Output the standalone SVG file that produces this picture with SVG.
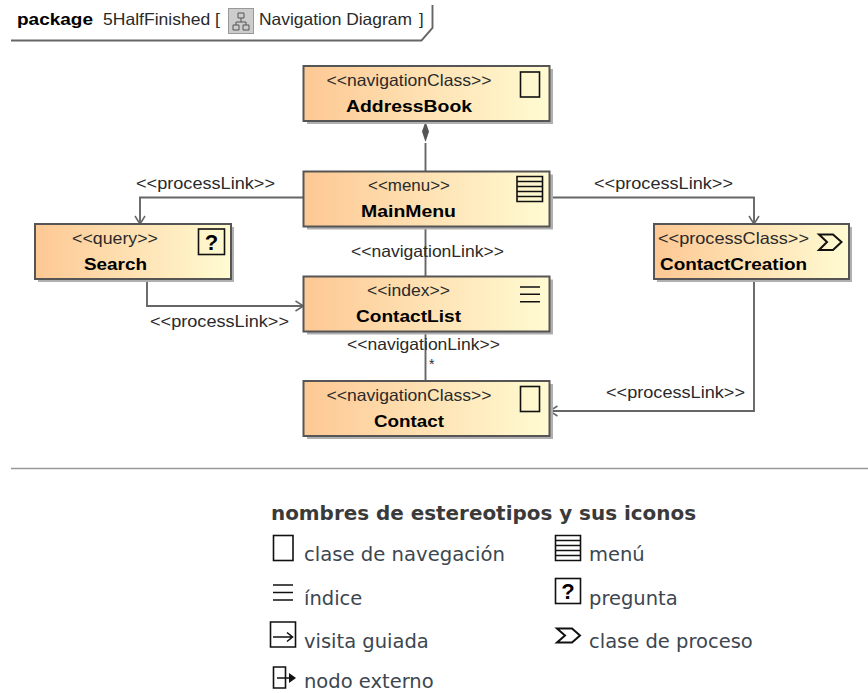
<svg xmlns="http://www.w3.org/2000/svg" width="868" height="693" viewBox="0 0 868 693">
<style>
text{font-family:"Liberation Sans",Arial,sans-serif;fill:#2a2a2a;font-size:16.500px}
.st{text-anchor:middle}
.nm{font-weight:bold;text-anchor:middle;fill:#000}
.bd{font-weight:bold;fill:#000}
.box{fill:url(#g);stroke:#555;stroke-width:2}
.sh{fill:#b0b0b0}
.ic{fill:none;stroke:#111;stroke-width:1.6}
.cn{fill:none;stroke:#666;stroke-width:1.9}
text.lg{font-family:"DejaVu Sans",Verdana,sans-serif;font-size:19.500px;fill:#3c4650}
</style>
<defs>
<linearGradient id="g" x1="0" x2="1" y1="0" y2="0"><stop offset="0" stop-color="#fdc894"/><stop offset="1" stop-color="#fffbd2"/></linearGradient>
<marker id="open" markerWidth="14" markerHeight="14" refX="11" refY="7" orient="auto" markerUnits="userSpaceOnUse"><path d="M3 2L11 7L3 12" fill="none" stroke="#666" stroke-width="1.5"/></marker>
</defs>
<g id="frame"><path class="cn" d="M11 40.500H421.500L432.500 28V5"/><text class="bd" x="17" y="25" textLength="76" lengthAdjust="spacingAndGlyphs">package</text><text x="103" y="25" textLength="117" lengthAdjust="spacingAndGlyphs">5HalfFinished [</text><rect x="228.500" y="8.500" width="25" height="25" fill="#ccc" stroke="#999"/><path d="M233 30v-5h6v5zM243 30v-5h6v5zM238 13h6v5h-6zM241 18v4M236 25v-3h10v3" fill="none" stroke="#555"/><text x="259" y="25" textLength="153" lengthAdjust="spacingAndGlyphs">Navigation Diagram</text><text x="419" y="25">]</text></g>
<g id="connectors">
<path class="cn" d="M425.500 143V171.500"/><path d="M425.500 121.500L429 131.500L425.500 142L422 131.500Z" fill="#555"/>
<path class="cn" d="M303.500 197.500H140V224" marker-end="url(#open)"/>
<path class="cn" d="M549.500 197.500H754V224" marker-end="url(#open)"/>
<path class="cn" d="M425.500 226.500V276.500"/>
<path class="cn" d="M147 279V306H303.500" marker-end="url(#open)"/>
<path class="cn" d="M425.500 331V381"/>
<path class="cn" d="M754 279V411H549.500" marker-end="url(#open)"/>
</g>
<text x="136" y="188.500" textLength="139" lengthAdjust="spacingAndGlyphs">&lt;&lt;processLink&gt;&gt;</text>
<text x="594" y="188.500" textLength="139" lengthAdjust="spacingAndGlyphs">&lt;&lt;processLink&gt;&gt;</text>
<text x="351" y="257" textLength="153" lengthAdjust="spacingAndGlyphs">&lt;&lt;navigationLink&gt;&gt;</text>
<text x="150" y="327" textLength="139" lengthAdjust="spacingAndGlyphs">&lt;&lt;processLink&gt;&gt;</text>
<text x="347" y="350" textLength="153" lengthAdjust="spacingAndGlyphs">&lt;&lt;navigationLink&gt;&gt;</text>
<text x="429" y="369" style="font-size:14px">*</text>
<text x="606" y="397.500" textLength="139" lengthAdjust="spacingAndGlyphs">&lt;&lt;processLink&gt;&gt;</text>
<g id="AddressBook"><rect class="sh" x="307" y="69" width="246" height="55"/><rect class="box" x="303.500" y="66" width="246" height="55"/><text class="st" x="409" y="86" textLength="165" lengthAdjust="spacingAndGlyphs">&lt;&lt;navigationClass&gt;&gt;</text><text class="nm" x="409" y="112" textLength="126" lengthAdjust="spacingAndGlyphs">AddressBook</text><rect class="ic" x="520.500" y="72" width="19" height="25"/></g>
<g id="MainMenu"><rect class="sh" x="307" y="174.500" width="246" height="55"/><rect class="box" x="303.500" y="171.500" width="246" height="55"/><text class="st" x="409" y="191" textLength="82" lengthAdjust="spacingAndGlyphs">&lt;&lt;menu&gt;&gt;</text><text class="nm" x="408.500" y="217" textLength="95" lengthAdjust="spacingAndGlyphs">MainMenu</text><path class="ic" d="M517 176.500h25.500v25h-25.500zM517 181.500h25.500M517 186.500h25.500M517 191.500h25.500M517 196.500h25.500"/></g>
<g id="Search"><rect class="sh" x="38" y="227" width="196" height="55"/><rect class="box" x="35" y="224" width="196" height="55"/><text class="st" x="115" y="244" textLength="86" lengthAdjust="spacingAndGlyphs">&lt;&lt;query&gt;&gt;</text><text class="nm" x="115.500" y="270" textLength="63" lengthAdjust="spacingAndGlyphs">Search</text><rect class="ic" x="198.500" y="229" width="26" height="25.500"/><text x="211.500" y="249.500" style="font-size:22px;font-weight:bold;text-anchor:middle;fill:#000">?</text></g>
<g id="ContactCreation"><rect class="sh" x="657" y="227" width="195" height="55"/><rect class="box" x="654" y="224" width="195" height="55"/><text x="658" y="244" textLength="151" lengthAdjust="spacingAndGlyphs">&lt;&lt;processClass&gt;&gt;</text><text class="bd" x="660" y="270" textLength="147" lengthAdjust="spacingAndGlyphs">ContactCreation</text><path d="M819 234.500H833L841.500 242L833 250H819L827 242Z" fill="none" stroke="#111" stroke-width="2"/></g>
<g id="ContactList"><rect class="sh" x="307" y="279.500" width="246" height="55"/><rect class="box" x="303.500" y="276.500" width="246" height="55"/><text class="st" x="408.500" y="296" textLength="83" lengthAdjust="spacingAndGlyphs">&lt;&lt;index&gt;&gt;</text><text class="nm" x="408.500" y="322" textLength="105" lengthAdjust="spacingAndGlyphs">ContactList</text><path class="ic" d="M520 287h20M520 294.300h20M520 301.700h20"/></g>
<g id="Contact"><rect class="sh" x="307" y="384" width="246" height="55"/><rect class="box" x="303.500" y="381" width="246" height="55"/><text class="st" x="409" y="401" textLength="165" lengthAdjust="spacingAndGlyphs">&lt;&lt;navigationClass&gt;&gt;</text><text class="nm" x="409" y="427" textLength="70" lengthAdjust="spacingAndGlyphs">Contact</text><rect class="ic" x="520.500" y="386.500" width="19" height="25"/></g>
<path d="M11 468.500H868" stroke="#999" stroke-width="1.300"/>
<g id="legend">
<text x="271" y="520" style="font-family:'DejaVu Sans',Verdana,sans-serif;font-size:19.500px;font-weight:bold;fill:#3a3a3a" textLength="425" lengthAdjust="spacingAndGlyphs">nombres de estereotipos y sus iconos</text>
<rect class="ic" x="273.500" y="535.500" width="19.500" height="25"/><text class="lg" x="304" y="560.500" textLength="201" lengthAdjust="spacingAndGlyphs">clase de navegación</text>
<path class="ic" d="M555.500 535.500h25v25h-25zM555.500 540.500h25M555.500 545.500h25M555.500 550.500h25M555.500 555.500h25"/><text class="lg" x="589" y="560.500">menú</text>
<path class="ic" d="M273 585h20M273 592.500h20M273 600h20"/><text class="lg" x="304" y="604.500">índice</text>
<rect class="ic" x="555.500" y="578.500" width="25" height="25"/><text x="568" y="598.500" style="font-size:22px;font-weight:bold;text-anchor:middle;fill:#000">?</text><text class="lg" x="589" y="604.500">pregunta</text>
<path class="ic" d="M270.500 622h25v25h-25zM273 637h19M287 632.500l5.500 4.500l-5.500 4.500"/><text class="lg" x="304" y="647.500">visita guiada</text>
<path d="M557 628.500H572L580 635.500L572 642.500H557L565 635.500Z" fill="none" stroke="#111" stroke-width="2"/><text class="lg" x="589" y="647.500">clase de proceso</text>
<path class="ic" d="M273.500 667h12v21h-12zM277 678h14"/><path d="M289 673l7 5l-7 5z" fill="#111"/><text class="lg" x="304" y="688">nodo externo</text>
</g>
</svg>
